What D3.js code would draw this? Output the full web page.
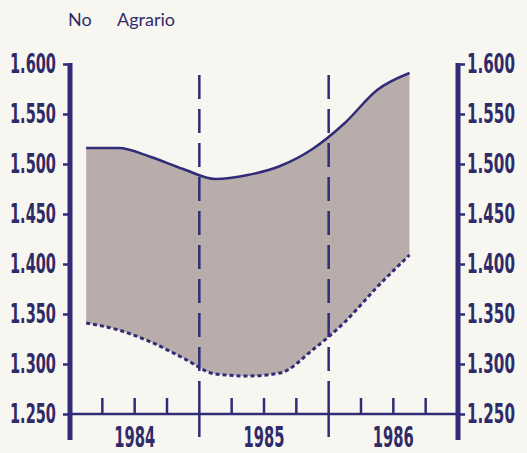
<!DOCTYPE html>
<html>
<head>
<meta charset="utf-8">
<script src="https://cdn.jsdelivr.net/npm/d3@7"></script>
<style>
  body { margin: 0; background: #f8f6f0; }
  svg { display: block; }
  .num { font-family: "Liberation Sans Narrow", "DejaVu Sans Condensed", sans-serif; font-weight: bold; fill: #2f2b68; }
</style>
</head>
<body>
<svg width="527" height="453"></svg>
<script>
// quarters from 1984 Q1 to 1986 Q3
var quarters = [0, 1, 2, 3, 4, 5, 6, 7, 8, 9, 10];
var upper = [1.516, 1.516, 1.507, 1.495, 1.485, 1.489, 1.498, 1.515, 1.541, 1.574, 1.591];
var lower = [1.341, 1.334, 1.322, 1.306, 1.290, 1.288, 1.291, 1.314, 1.342, 1.377, 1.409];
var years = ["1984", "1985", "1986"];
var yTicks = [1.25, 1.3, 1.35, 1.4, 1.45, 1.5, 1.55, 1.6];

var svg = d3.select("svg"),
    navy = "#302c78";

var x = d3.scaleLinear().domain([0, 12]).range([70, 458]);
var y = d3.scaleLinear().domain([1.25, 1.6]).range([414, 64]);

var fmt = d3.format(".3f");

// squeeze a text horizontally to a given width, like the condensed print
function squeeze(sel, w, anchor) {
  sel.each(function() {
    var t = d3.select(this),
        tx = +t.attr("x"), ty = +t.attr("y"),
        k = w / this.getComputedTextLength();
    t.attr("x", 0).attr("y", 0)
     .attr("text-anchor", anchor)
     .attr("transform", "translate(" + tx + "," + ty + ") scale(" + k + ",1)");
  });
}

// title
var title = svg.append("text")
    .attr("y", 26)
    .attr("font-family", "Lato, 'Open Sans', sans-serif")
    .attr("font-size", 18)
    .attr("fill", "#2f2b68");
title.append("tspan").attr("x", 68).text("No");
title.append("tspan").attr("x", 117).text("Agrario");

// area between the two series
var data = quarters.map(function(q, i) { return {q: q, hi: upper[i], lo: lower[i]}; });

svg.append("path")
    .datum(data)
    .attr("fill", "#b9adab")
    .attr("d", d3.area()
        .x(function(d) { return x(d.q + 0.5); })
        .y0(function(d) { return y(d.lo); })
        .y1(function(d) { return y(d.hi); })
        .curve(d3.curveMonotoneX));

// year separators (dashed inside the plot)
svg.append("g").selectAll("line")
    .data([4, 8])
    .enter().append("line")
      .attr("x1", function(d) { return x(d); })
      .attr("x2", function(d) { return x(d); })
      .attr("y1", 75).attr("y2", 392)
      .attr("stroke", navy)
      .attr("stroke-width", 2.5)
      .attr("stroke-dasharray", "24,10");

// upper line
svg.append("path")
    .datum(data)
    .attr("fill", "none")
    .attr("stroke", navy)
    .attr("stroke-width", 2.5)
    .attr("d", d3.line()
        .x(function(d) { return x(d.q + 0.5); })
        .y(function(d) { return y(d.hi); })
        .curve(d3.curveMonotoneX));

// lower dotted line
svg.append("path")
    .datum(data)
    .attr("fill", "none")
    .attr("stroke", navy)
    .attr("stroke-width", 3)
    .attr("stroke-dasharray", "4,3")
    .attr("d", d3.line()
        .x(function(d) { return x(d.q + 0.5); })
        .y(function(d) { return y(d.lo); })
        .curve(d3.curveMonotoneX));

// left axis
var left = svg.append("g")
    .attr("transform", "translate(" + x(0) + ",0)")
    .call(d3.axisLeft(y).tickValues(yTicks).tickSize(7).tickFormat(""));

// right axis
var right = svg.append("g")
    .attr("transform", "translate(" + x(12) + ",0)")
    .call(d3.axisRight(y).tickValues(yTicks).tickSize(7).tickFormat(""));

[left, right].forEach(function(g) {
  g.select(".domain").remove();
  g.selectAll(".tick line").attr("stroke", navy).attr("stroke-width", 2.5);
});

// axis verticals, extending below the baseline
svg.append("g").selectAll("line")
    .data([0, 12])
    .enter().append("line")
      .attr("x1", function(d) { return x(d); })
      .attr("x2", function(d) { return x(d); })
      .attr("y1", y(1.6) - 1).attr("y2", 440)
      .attr("stroke", navy)
      .attr("stroke-width", 5);

// y labels
svg.append("g").selectAll("text")
    .data(yTicks)
    .enter().append("text")
      .attr("class", "num")
      .attr("x", 56)
      .attr("y", function(d) { return y(d) + 9; })
      .attr("font-size", 27)
      .text(fmt)
      .call(squeeze, 46, "end");

svg.append("g").selectAll("text")
    .data(yTicks)
    .enter().append("text")
      .attr("class", "num")
      .attr("x", 467)
      .attr("y", function(d) { return y(d) + 9; })
      .attr("font-size", 27)
      .text(fmt)
      .call(squeeze, 48, "start");

// x axis baseline and ticks
svg.append("line")
    .attr("x1", x(0)).attr("x2", x(12))
    .attr("y1", y(1.25)).attr("y2", y(1.25))
    .attr("stroke", navy)
    .attr("stroke-width", 2.5);

svg.append("g").selectAll("line")
    .data(d3.range(1, 12).filter(function(d) { return d % 4 != 0; }))
    .enter().append("line")
      .attr("x1", function(d) { return x(d); })
      .attr("x2", function(d) { return x(d); })
      .attr("y1", y(1.25) - 16).attr("y2", y(1.25))
      .attr("stroke", navy)
      .attr("stroke-width", 2.5);

svg.append("g").selectAll("line")
    .data([4, 8])
    .enter().append("line")
      .attr("x1", function(d) { return x(d); })
      .attr("x2", function(d) { return x(d); })
      .attr("y1", y(1.25) - 22).attr("y2", 437)
      .attr("stroke", navy)
      .attr("stroke-width", 2.5);

// year labels
svg.append("g").selectAll("text")
    .data(years)
    .enter().append("text")
      .attr("class", "num")
      .attr("x", function(d, i) { return x(i * 4 + 2); })
      .attr("y", 447)
      .attr("font-size", 29)
      .text(function(d) { return d; })
      .call(squeeze, 41, "middle");
</script>
</body>
</html>
